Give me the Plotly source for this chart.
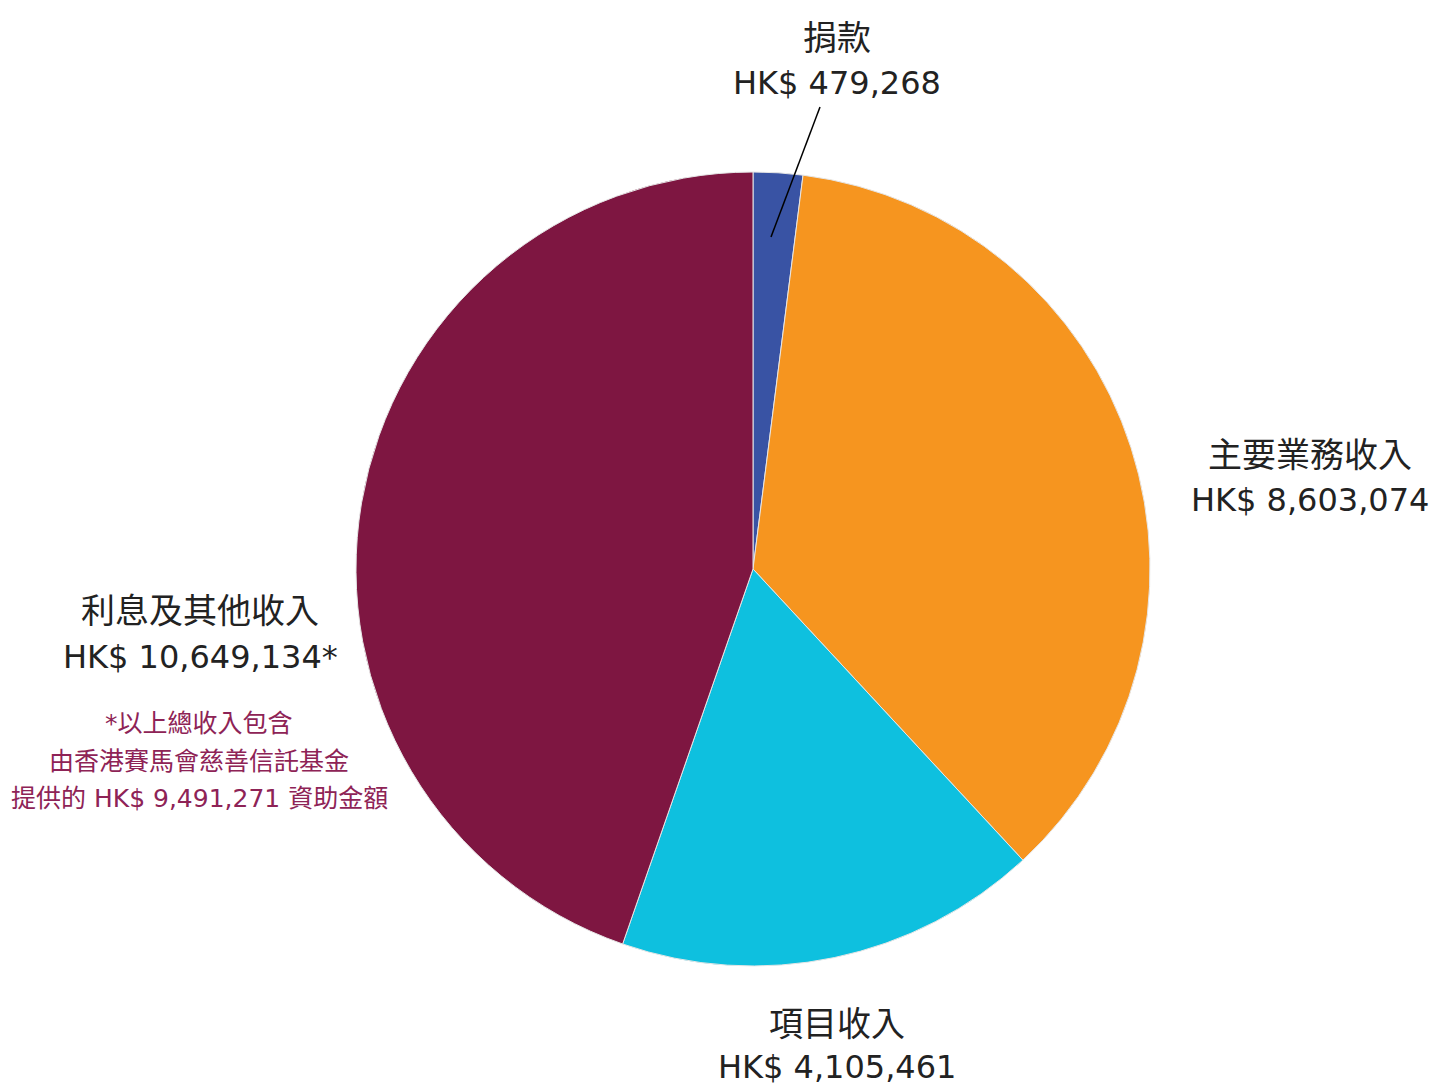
import plotly.graph_objects as go

categories = ["捐款", "主要業務收入", "項目收入", "利息及其他收入"]
values = [479268, 8603074, 4105461, 10649134]
value_labels = ["HK$ 479,268", "HK$ 8,603,074", "HK$ 4,105,461", "HK$ 10,649,134*"]
colors = ["#3953A4", "#F6951F", "#0EC0DF", "#7E1641"]
footnote = ["*以上總收入包含", "由香港賽馬會慈善信託基金", "提供的 HK$ 9,491,271 資助金額"]

OFF = 8  # page body margin
W, H = 1430, 1080
LATIN = "DejaVu Sans, Noto Sans CJK TC, sans-serif"
CJK = "Noto Sans CJK TC, sans-serif"

def px(x, y):
    return (x - OFF) / W, 1 - (y - OFF) / H

dx0, dy0 = px(356, 966)
dx1, dy1 = px(1150, 172)
fig = go.Figure(go.Pie(
    labels=categories, values=values, sort=False, direction="clockwise", rotation=0,
    marker=dict(colors=colors, line=dict(color="#e6e6e6", width=1)),
    textinfo="none", hoverinfo="label+value", showlegend=False,
    domain=dict(x=[dx0, dx1], y=[dy0, dy1]),
))

label_pos = [(837, 35, 83), (1310, 452, 500), (837, 1021, 1067), (200, 608, 657)]
ann = []
for cat, vl, (x, y1, y2) in zip(categories, value_labels, label_pos):
    ax, ay = px(x, y1)
    ann.append(dict(x=ax, y=ay, xref="paper", yref="paper", text=cat, showarrow=False,
                    xanchor="center", yanchor="middle",
                    font=dict(family=CJK, size=34, color="#222222")))
    ax, ay = px(x, y2)
    ann.append(dict(x=ax, y=ay, xref="paper", yref="paper", text=vl, showarrow=False,
                    xanchor="center", yanchor="middle",
                    font=dict(family=LATIN, size=32, color="#222222")))
for txt, y in zip(footnote, (723, 761, 798)):
    ax, ay = px(199, y)
    ann.append(dict(x=ax, y=ay, xref="paper", yref="paper", text=txt, showarrow=False,
                    xanchor="center", yanchor="middle",
                    font=dict(family=LATIN, size=25, color="#8E2356")))

x0, y0 = px(820, 107)
x1, y1 = px(771, 237)
fig.update_layout(
    width=W, height=H, margin=dict(l=0, r=0, t=0, b=0),
    paper_bgcolor="white", plot_bgcolor="white",
    annotations=ann,
    shapes=[dict(type="line", xref="paper", yref="paper", x0=x0, y0=y0, x1=x1, y1=y1,
                 line=dict(color="black", width=1.5))],
)
fig.write_html("out.html")
